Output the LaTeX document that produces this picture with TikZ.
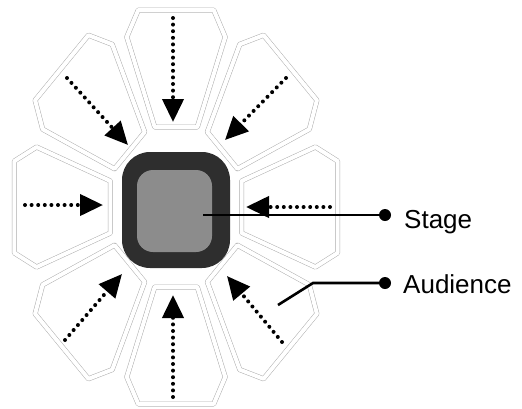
\documentclass[tikz,border=0pt]{standalone}
\usepackage{fontspec}
\setmainfont{Liberation Sans}
\usetikzlibrary{arrows.meta}
\begin{document}
\begin{tikzpicture}[x=1pt,y=-1pt,
  sector/.style={draw=black!32, line width=0.5pt, double=white, double distance=4pt, line join=round},
  inarrow/.style={line width=4pt, line cap=round, dash pattern=on 0pt off 6.6pt,
                  -{Triangle[length=23pt,width=21pt]}},
  pointer/.style={line width=2.6pt},
  pindot/.style={circle, fill=black, inner sep=0pt, minimum size=12pt},
  label/.style={anchor=base west, font=\fontsize{26}{30}\selectfont, inner sep=0pt}]
\useasboundingbox (0,0) rectangle (522,408);

% ring of eight audience sectors around the stage
\foreach \a in {0,45,...,315}
  \draw[sector, shift={(176,207)}, xscale=0.82, rotate=\a]
    (80,-26) -- (170,-60) -- (197,-46) -- (197,46) -- (170,60) -- (80,26) -- cycle;

% stage
\node[fill=black!82, rounded corners=28pt, minimum width=108pt, minimum height=116pt, inner sep=0pt] (stageouter) at (176,210) {};
\node[fill=black!45, rounded corners=16pt, minimum width=75pt, minimum height=82pt, inner sep=0pt] (stageinner) at (174.5,211) {};

% arrows from each sector towards the stage
\coordinate (tN)  at (173,18);   \coordinate (hN)  at (173,122);
\coordinate (tNW) at (67,78);    \coordinate (hNW) at (128,145);
\coordinate (tNE) at (286,78);   \coordinate (hNE) at (225,140);
\coordinate (tW)  at (25,205);   \coordinate (hW)  at (103,205);
\coordinate (tE)  at (330,207);  \coordinate (hE)  at (246,207);
\coordinate (tSW) at (65,340);   \coordinate (hSW) at (122,274);
\coordinate (tS)  at (173,397);  \coordinate (hS)  at (173,295);
\coordinate (tSE) at (282,342);  \coordinate (hSE) at (227,276);
\foreach \d in {N,NW,NE,W,E,SW,S,SE}
  \draw[inarrow] (t\d) -- (h\d);

% labels
\node[pindot] (stagedot) at (385,215) {};
\node[pindot] (audiencedot) at (385,283) {};
\coordinate (stagept) at (203,215);
\coordinate (audpt) at (278,305);
\coordinate (audbend) at (313,283);
\draw[pointer] (stagept) -- (stagedot.center);
\draw[pointer] (audpt) -- (audbend) -- (audiencedot.center);
\node[label] (stagetext) at (404,228) {Stage};
\node[label] (audtext) at (403,293) {Audience};
\end{tikzpicture}
\end{document}
